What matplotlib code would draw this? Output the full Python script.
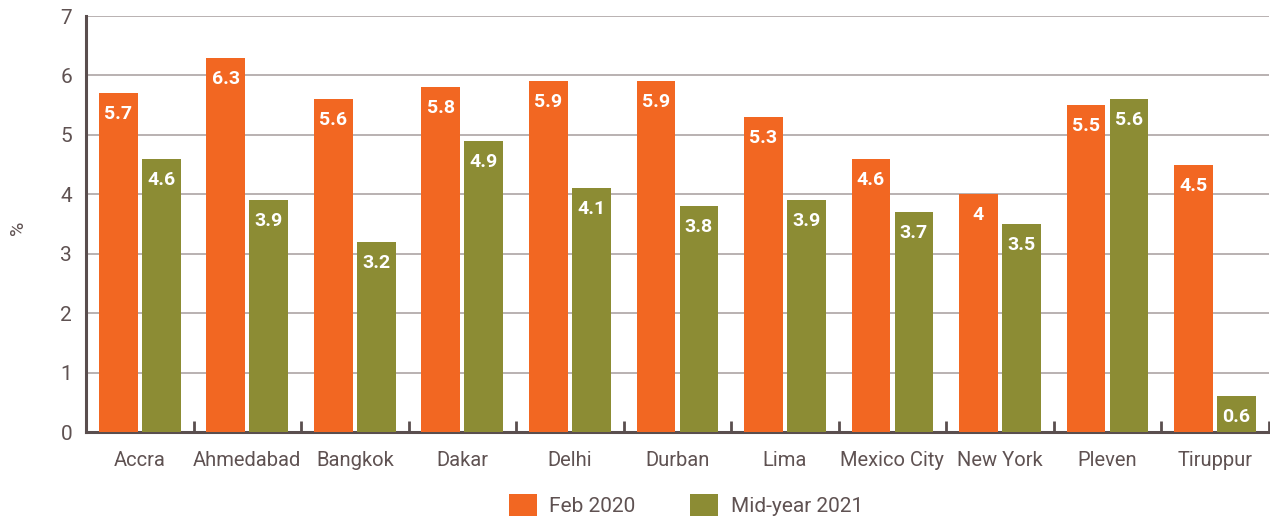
import matplotlib
matplotlib.use("Agg")
import matplotlib.pyplot as plt
import numpy as np

cities = ["Accra", "Ahmedabad", "Bangkok", "Dakar", "Delhi", "Durban", "Lima",
          "Mexico City", "New York", "Pleven", "Tiruppur"]
feb2020 = [5.7, 6.3, 5.6, 5.8, 5.9, 5.9, 5.3, 4.6, 4.0, 5.5, 4.5]
mid2021 = [4.6, 3.9, 3.2, 4.9, 4.1, 3.8, 3.9, 3.7, 3.5, 5.6, 0.6]
series_names = ["Feb 2020", "Mid-year 2021"]

plt.rcParams['font.family'] = ['Roboto', 'DejaVu Sans']
TXT = "#5f5252"
AX = "#5a4e4e"
C1 = "#f26722"
C2 = "#8c8c34"

fig = plt.figure(figsize=(12.70, 5.17), dpi=100)
ax = fig.add_axes([86/1270, 1-432/517, 1-86/1270 - 0.001, (432-16)/517])

x = np.arange(len(cities))
w = 0.36
off = 0.2
b1 = ax.bar(x - off, feb2020, w, color=C1, label=series_names[0], zorder=3)
b2 = ax.bar(x + off, mid2021, w, color=C2, label=series_names[1], zorder=3)

def fmt(v):
    return f"{v:g}"

for bars, vals in ((b1, feb2020), (b2, mid2021)):
    for r, v in zip(bars, vals):
        ax.annotate(fmt(v), (r.get_x() + r.get_width()/2, v), xytext=(0, -21),
                    textcoords="offset pixels",
                    ha="center", va="center", color="white", fontsize=14,
                    fontweight="bold", zorder=4)

ax.set_xlim(-0.5, len(cities) - 0.5)
ax.set_ylim(0, 7)
ax.set_yticks(range(0, 8))
ax.yaxis.grid(True, color="#b3abab", linewidth=1.3, zorder=0)
ax.set_axisbelow(True)

ax.set_xticks(x)
ax.set_xticklabels(cities, fontsize=14.5, color=TXT)
ax.tick_params(axis="x", which="major", length=0, pad=14)
ax.set_xticks(np.arange(0.5, len(cities), 1.0), minor=True)
ax.tick_params(axis="x", which="minor", direction="in", length=8, width=2, color=AX)
ax.tick_params(axis="y", length=0, pad=10, labelsize=15, labelcolor=TXT)

for s in ("top", "right"):
    ax.spines[s].set_visible(False)
for s in ("left", "bottom"):
    ax.spines[s].set_color(AX)
    ax.spines[s].set_linewidth(2.2)

fig.text(18/1270, 1-228/517, "%", rotation=90, fontsize=14, color=TXT,
         ha="center", va="center")

leg = fig.legend(handles=[b1, b2], labels=series_names, loc="center",
                 bbox_to_anchor=(0.54, 1-505/517), ncol=2, frameon=False,
                 fontsize=15, handlelength=1.35, handleheight=1.25,
                 handletextpad=0.6, columnspacing=2.6)
for t in leg.get_texts():
    t.set_color(TXT)

fig.savefig("out.png", dpi=100)
